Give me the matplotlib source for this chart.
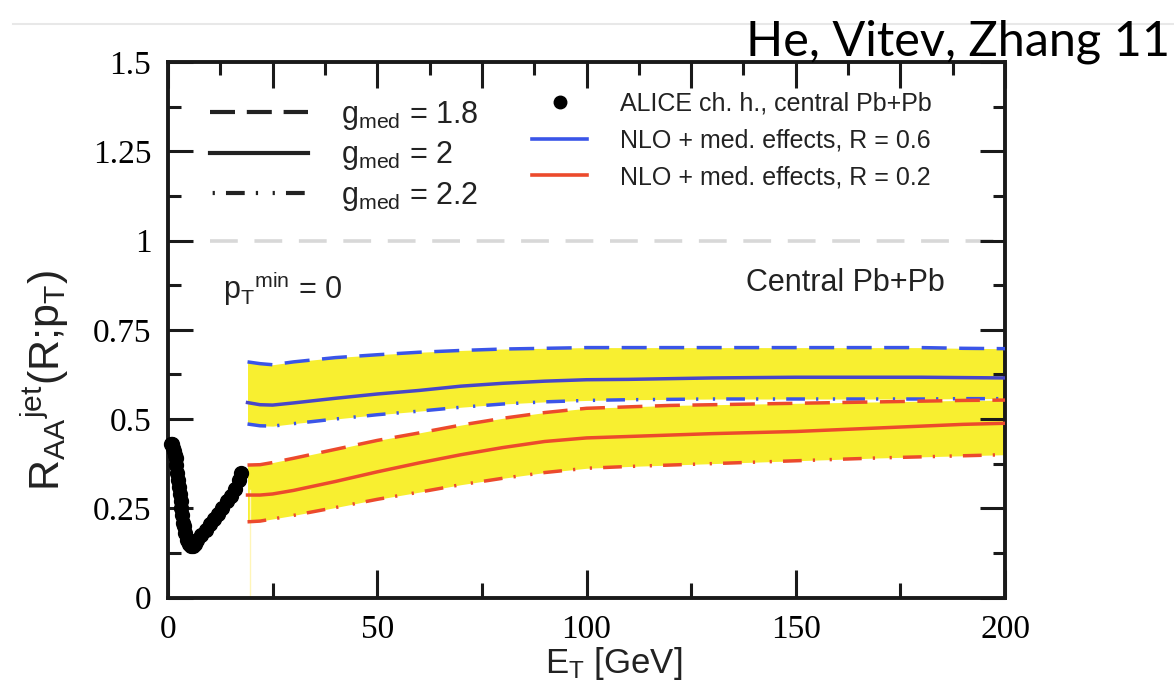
import matplotlib
matplotlib.use('Agg')
import matplotlib.pyplot as plt
from matplotlib.lines import Line2D
from matplotlib.ticker import MultipleLocator, FuncFormatter

# ---------------- data ----------------
# ALICE charged hadrons, central Pb+Pb
alice_pt = [0.8, 1.0, 1.2, 1.4, 1.6, 1.8, 2.0, 2.2, 2.4, 2.6, 2.8, 3.0, 3.2, 3.4,
            3.6, 3.8, 4.0, 4.5, 5.0, 5.5, 6.0, 6.5, 7.0, 8.0, 9.0, 10.0, 11.0,
            12.0, 13.0, 14.0, 15.0, 16.0, 17.0, 17.5]
alice_raa = [0.43, 0.43, 0.42, 0.41, 0.40, 0.39, 0.37, 0.35, 0.33, 0.31, 0.29,
             0.27, 0.25, 0.23, 0.21, 0.20, 0.18, 0.16, 0.15, 0.145, 0.145, 0.15,
             0.16, 0.175, 0.19, 0.205, 0.22, 0.235, 0.25, 0.27, 0.285, 0.305,
             0.33, 0.35]

# NLO + medium effects, jet E_T grid
et = [19, 22, 25, 30, 40, 50, 60, 70, 80, 90, 100, 110, 120, 130, 140, 150,
      160, 170, 180, 190, 200]
# R = 0.6
r06_g18 = [0.66, 0.655, 0.652, 0.66, 0.672, 0.68, 0.687, 0.692, 0.696, 0.698,
           0.70, 0.70, 0.70, 0.70, 0.70, 0.70, 0.70, 0.70, 0.70, 0.698, 0.697]
r06_g20 = [0.546, 0.540, 0.539, 0.545, 0.558, 0.57, 0.58, 0.592, 0.60, 0.606,
           0.61, 0.611, 0.613, 0.615, 0.616, 0.617, 0.617, 0.617, 0.617, 0.616,
           0.615]
r06_g22 = [0.486, 0.481, 0.48, 0.487, 0.50, 0.512, 0.522, 0.533, 0.542, 0.548,
           0.552, 0.554, 0.555, 0.556, 0.556, 0.556, 0.556, 0.556, 0.556, 0.557,
           0.557]
# R = 0.2
r02_g18 = [0.371, 0.372, 0.378, 0.39, 0.415, 0.44, 0.461, 0.483, 0.502, 0.518,
           0.53, 0.534, 0.538, 0.540, 0.542, 0.544, 0.546, 0.548, 0.550, 0.552,
           0.553]
r02_g20 = [0.287, 0.287, 0.29, 0.30, 0.325, 0.352, 0.377, 0.40, 0.42, 0.437,
           0.447, 0.451, 0.455, 0.459, 0.462, 0.465, 0.47, 0.475, 0.48, 0.485,
           0.488]
r02_g22 = [0.212, 0.214, 0.22, 0.23, 0.252, 0.275, 0.295, 0.316, 0.334, 0.35,
           0.362, 0.367, 0.371, 0.375, 0.379, 0.383, 0.387, 0.391, 0.394, 0.397,
           0.40]

gmed_labels = [r"g$_{\mathrm{med}}$ = 1.8", r"g$_{\mathrm{med}}$ = 2", r"g$_{\mathrm{med}}$ = 2.2"]
model_labels = ["ALICE ch. h., central Pb+Pb", "NLO + med. effects, R = 0.6",
                "NLO + med. effects, R = 0.2"]
x_ticks = [0, 50, 100, 150, 200]
y_ticks = [0, 0.25, 0.5, 0.75, 1, 1.25, 1.5]

# ---------------- style ----------------
plt.rcParams['lines.scale_dashes'] = False
plt.rcParams['mathtext.fontset'] = 'custom'
plt.rcParams['mathtext.rm'] = 'Liberation Sans'
plt.rcParams['mathtext.it'] = 'Liberation Sans'
plt.rcParams['mathtext.sf'] = 'Liberation Sans'
plt.rcParams['mathtext.bf'] = 'Liberation Sans:bold'
plt.rcParams['font.family'] = ['Liberation Sans', 'DejaVu Sans']

YELLOW = '#f8ef30'
BLUE = '#3a55e8'
BLUE_SOLID = '#4846c8'
RED = '#ec4a2c'
DASH = (0, (18, 9))
DASHDOT = (0, (13.5, 8, 1.6, 10.5, 1.6, 8))
LEG_DASH = (0, (18, 8.5))
LEG_DASHDOT = (31.7, (13.5, 8, 1.6, 10.5, 1.6, 8))

W, H = 1174, 697
fig = plt.figure(figsize=(W / 100, H / 100), dpi=100)
x0, x1, ytop, ybot = 168, 1005, 62, 597.5
ax = fig.add_axes([x0 / W, 1 - ybot / H, (x1 - x0) / W, (ybot - ytop) / H])

# reference line at 1
ax.plot([10, 200], [1, 1], color='#d8d8d8', lw=2.6, ls=(0, (20, 12)), zorder=1)

# bands
ax.fill_between(et, r06_g22, r06_g18, color=YELLOW, lw=0, zorder=1)
ax.fill_between(et, r02_g22, r02_g18, color=YELLOW, lw=0, zorder=1)
ax.axvline(et[0] + 0.6, ymin=0, ymax=0.2, color='#fff5b8', lw=1, zorder=1)

for vals, col, ls in [(r06_g18, BLUE, DASH), (r06_g20, BLUE_SOLID, '-'),
                      (r06_g22, BLUE, DASHDOT), (r02_g18, RED, DASH),
                      (r02_g20, RED, '-'), (r02_g22, RED, DASHDOT)]:
    ax.plot(et, vals, color=col, lw=2.5, ls=ls, zorder=3)

ax.plot(alice_pt, alice_raa, 'o', color='black', ms=10, zorder=4, clip_on=False)

# axes formatting
ax.set_xlim(0, 200)
ax.set_ylim(0, 1.5)
ax.set_xticks(x_ticks)
ax.xaxis.set_minor_locator(MultipleLocator(25))
ax.set_yticks(y_ticks)
ax.yaxis.set_minor_locator(MultipleLocator(0.125))
ax.yaxis.set_major_formatter(FuncFormatter(lambda v, p: '%g' % v))
ax.xaxis.set_major_formatter(FuncFormatter(lambda v, p: '%g' % v))
for s in ax.spines.values():
    s.set_linewidth(2.8)
    s.set_color('#1a1a1a')
ax.tick_params(axis='y', which='both', direction='in', left=True, right=True,
               width=2.2, color='#1a1a1a')
ax.tick_params(axis='y', which='major', length=18)
ax.tick_params(axis='y', which='minor', length=9)
ax.tick_params(axis='x', which='both', direction='in', bottom=True, top=False,
               width=2.2, color='#1a1a1a')
ax.tick_params(axis='x', which='major', length=20)
ax.tick_params(axis='x', which='minor', length=11)
ax.tick_params(axis='both', which='major', labelsize=24, pad=12)
for lab in ax.get_xticklabels() + ax.get_yticklabels():
    lab.set_fontfamily('Liberation Serif')

axt = ax.twiny()
axt.set_xlim(0, 200)
axt.xaxis.set_major_locator(MultipleLocator(25))
axt.xaxis.set_minor_locator(MultipleLocator(12.5))
axt.tick_params(axis='x', which='both', direction='in', top=True, labeltop=False,
                width=2.2, color='#1a1a1a')
axt.tick_params(axis='x', which='major', length=19)
axt.tick_params(axis='x', which='minor', length=9.5)
for s in axt.spines.values():
    s.set_visible(False)

# legends
h1 = [Line2D([], [], color='#222222', lw=3, ls=LEG_DASH),
      Line2D([], [], color='#222222', lw=3, ls='-'),
      Line2D([], [], color='#222222', lw=3, ls=LEG_DASHDOT)]
leg1 = ax.legend(h1, gmed_labels, loc='upper left',
                 bbox_to_anchor=((210 - x0) / (x1 - x0), (ybot - 99) / (ybot - ytop)),
                 frameon=False, fontsize=22, handlelength=3.2, handletextpad=1.1,
                 labelspacing=0.24, borderpad=0, borderaxespad=0)
for t in leg1.get_texts():
    t.set_color('#222222')
ax.add_artist(leg1)

h2 = [Line2D([], [], color='black', marker='o', ls='none', ms=9),
      Line2D([], [], color=BLUE, lw=2.6),
      Line2D([], [], color=RED, lw=2.6)]
leg2 = ax.legend(h2, model_labels, loc='upper left',
                 bbox_to_anchor=((532 - x0) / (x1 - x0), (ybot - 92) / (ybot - ytop)),
                 frameon=False, fontsize=18, handlelength=2.2, handletextpad=1.3,
                 labelspacing=0.5, borderpad=0, borderaxespad=0)
for t in leg2.get_texts():
    t.set_color('#222222')

ax.text((945 - x0) / (x1 - x0), (ybot - 283) / (ybot - ytop), 'Central Pb+Pb',
        transform=ax.transAxes, ha='right', va='center', fontsize=22, color='#222222')
ax.text((223 - x0) / (x1 - x0), (ybot - 299) / (ybot - ytop),
        r"$\mathrm{p_{T}{}^{min}}$ = 0",
        transform=ax.transAxes, ha='left', va='baseline', fontsize=22, color='#222222')

# axis labels
fig.text(614 / W, 1 - 664 / H, r"E$_{\mathrm{T}}$ [GeV]", ha='center', va='center',
         fontsize=25, color='#222222')
fig.text(45 / W, 1 - 381 / H, r"R$_{\mathrm{AA}}{}^{\mathrm{jet}}$(R;p$_{\mathrm{T}}$)",
         ha='center', va='center', rotation=90, fontsize=31, color='#222222')

# header
fig.add_artist(Line2D([13 / W, 1], [1 - 24 / H, 1 - 24 / H], transform=fig.transFigure,
                      color='#e8e8e8', lw=1.5))
fig.text(1170 / W, 1 - 56 / H, 'He, Vitev, Zhang 11', ha='right', va='baseline',
         fontsize=35, fontfamily='Lato', color='black')

fig.savefig('out.png', dpi=100)
